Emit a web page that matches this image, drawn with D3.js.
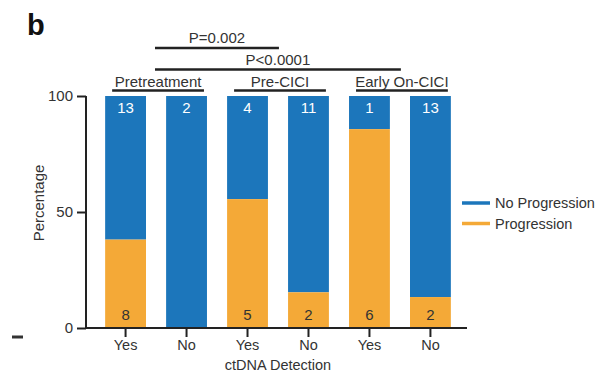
<!DOCTYPE html>
<html>
<head>
<meta charset="utf-8">
<script src="https://cdn.jsdelivr.net/npm/d3@7"></script>
<style>
  html, body { margin: 0; padding: 0; background: #fff; }
  svg { display: block; font-family: "Liberation Sans", Arial, sans-serif; }
</style>
</head>
<body>
<svg id="chart" width="598" height="373"></svg>
<script>
// Patient counts per ctDNA detection group
const bars = ["Pre-Yes", "Pre-No", "CICI-Yes", "CICI-No", "Early-Yes", "Early-No"];
const detection = ["Yes", "No", "Yes", "No", "Yes", "No"];
const progression = [8, 0, 5, 2, 6, 2];
const noProgression = [13, 2, 4, 11, 1, 13];
const timepoints = ["Pretreatment", "Pre-CICI", "Early On-CICI"];
const yTicks = [0, 50, 100];
const comparisons = [
  { label: "P=0.002", from: 0, to: 2 },
  { label: "P<0.0001", from: 0, to: 4 }
];
const seriesNames = ["No Progression", "Progression"];
const colors = { "No Progression": "#1c76bb", "Progression": "#f4a937" };

const svg = d3.select("#chart");
const ink = "#222";
const txt = "#333";
const FONT = "Liberation Sans, Arial, sans-serif";

const x = d3.scaleBand().domain(bars).range([96, 460]).paddingInner(0.33).paddingOuter(0.15);
const y = d3.scaleLinear().domain([0, 100]).range([328, 96]);

const rows = bars.map((b, i) => {
  const total = progression[i] + noProgression[i];
  return { key: b, i, prog: progression[i], noProg: noProgression[i],
           pct: total ? progression[i] / total * 100 : 0 };
});

// Bars: progression share stacked under the no-progression share
const g = svg.append("g");
g.selectAll("rect.np").data(rows).join("rect")
  .attr("x", d => x(d.key)).attr("width", x.bandwidth())
  .attr("y", y(100)).attr("height", d => y(d.pct) - y(100))
  .attr("fill", colors["No Progression"]);
g.selectAll("rect.p").data(rows).join("rect")
  .attr("x", d => x(d.key)).attr("width", x.bandwidth())
  .attr("y", d => y(d.pct)).attr("height", d => y(0) - y(d.pct))
  .attr("fill", colors["Progression"]);

// Counts inside the bars
g.selectAll("text.top").data(rows).join("text")
  .attr("x", d => x(d.key) + x.bandwidth() / 2).attr("y", y(100) + 16.5)
  .attr("text-anchor", "middle").attr("font-size", 15).attr("fill", "#fff")
  .text(d => d.noProg);
g.selectAll("text.bot").data(rows.filter(d => d.prog > 0)).join("text")
  .attr("x", d => x(d.key) + x.bandwidth() / 2).attr("y", y(0) - 8)
  .attr("text-anchor", "middle").attr("font-size", 15).attr("fill", txt)
  .text(d => d.prog);

// Y axis
const yAxis = svg.append("g").attr("transform", "translate(86,0)")
  .call(d3.axisLeft(y).tickValues(yTicks).tickSize(9).tickPadding(4));
yAxis.select(".domain").attr("stroke", ink).attr("stroke-width", 2).attr("d", "M0,96V329");
yAxis.selectAll(".tick line").attr("stroke", ink).attr("stroke-width", 2);
yAxis.selectAll("text").attr("font-size", 15).attr("fill", txt).attr("font-family", FONT);

// X axis
const xAxis = svg.append("g").attr("transform", "translate(0,328)")
  .call(d3.axisBottom(x).tickSize(9).tickPadding(3).tickFormat((d, i) => detection[i]));
xAxis.select(".domain").attr("stroke", ink).attr("stroke-width", 2).attr("d", "M85,0H467");
xAxis.selectAll(".tick line").attr("stroke", ink).attr("stroke-width", 2);
xAxis.selectAll("text").attr("font-size", 14.5).attr("fill", txt).attr("font-family", FONT);

svg.append("text").attr("x", (x(bars[0]) + x(bars[5]) + x.bandwidth()) / 2).attr("y", 370)
  .attr("text-anchor", "middle").attr("font-size", 14.5).attr("fill", txt).text("ctDNA Detection");
svg.append("text").attr("transform", "translate(44,203) rotate(-90)")
  .attr("text-anchor", "middle").attr("font-size", 15).attr("fill", txt).text("Percentage");

// Timepoint group labels with underlines
timepoints.forEach((t, k) => {
  const x0 = x(bars[2 * k]), x1 = x(bars[2 * k + 1]) + x.bandwidth();
  const cx = (x0 + x1) / 2 + 2;
  svg.append("text").attr("x", cx).attr("y", 86.5).attr("text-anchor", "middle")
    .attr("font-size", 15).attr("fill", txt).text(t);
  svg.append("line").attr("x1", x0 + 7).attr("x2", x1 - 3).attr("y1", 90.5).attr("y2", 90.5)
    .attr("stroke", ink).attr("stroke-width", 2.5);
});

// Significance brackets
comparisons.forEach((c, k) => {
  const x0 = x(bars[c.from]) + x.bandwidth() + 9;
  const x1 = x(bars[c.to]) + x.bandwidth() + 11;
  const ly = 48 + k * 21.5;
  svg.append("line").attr("x1", x0).attr("x2", x1).attr("y1", ly).attr("y2", ly)
    .attr("stroke", ink).attr("stroke-width", 2.5);
  svg.append("text").attr("x", (x0 + x1) / 2).attr("y", ly - 5).attr("text-anchor", "middle")
    .attr("font-size", 15).attr("fill", txt).text(c.label);
});

// Panel letter and margin mark
svg.append("text").attr("x", 27).attr("y", 35).attr("font-size", 29).attr("font-weight", "bold")
  .attr("fill", "#111").text("b");
svg.append("line").attr("x1", 12).attr("x2", 23).attr("y1", 337).attr("y2", 337)
  .attr("stroke", "#333").attr("stroke-width", 3);

// Legend
seriesNames.forEach((s, k) => {
  const ly = 203 + k * 20.5;
  svg.append("line").attr("x1", 462).attr("x2", 490).attr("y1", ly).attr("y2", ly)
    .attr("stroke", colors[s]).attr("stroke-width", 3.5);
  svg.append("text").attr("x", 495).attr("y", ly + 5).attr("font-size", 14.5).attr("fill", txt).text(s);
});
</script>
</body>
</html>
